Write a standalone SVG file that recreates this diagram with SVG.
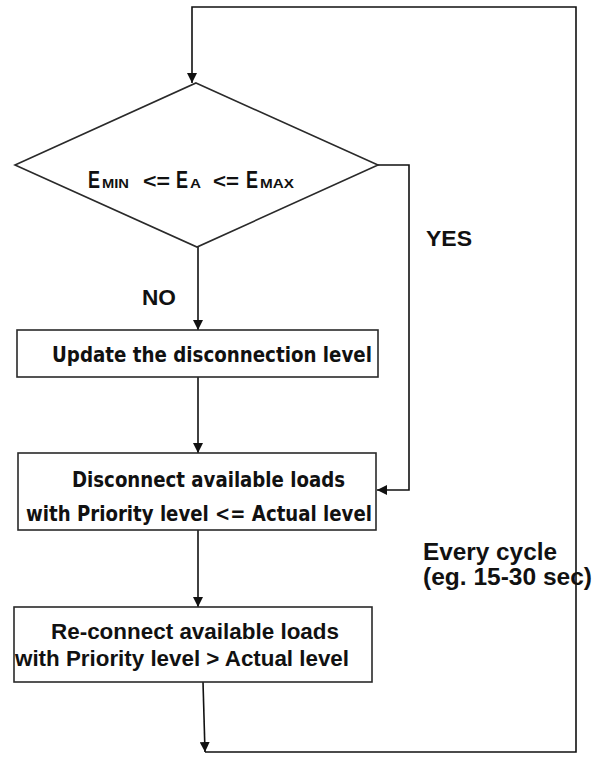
<svg xmlns="http://www.w3.org/2000/svg" width="593" height="759" viewBox="0 0 593 759">
  <defs>
    <marker id="arrow" markerUnits="userSpaceOnUse" markerWidth="10" markerHeight="10" refX="10" refY="5" orient="auto">
      <path d="M0,0 L10,5 L0,10 z" fill="#111"/>
    </marker>
    <style>
      .shape { fill: #fff; stroke: #2a2a2a; stroke-width: 1.6; }
      .wire { fill: none; stroke: #111; stroke-width: 1.6; marker-end: url(#arrow); }
      .lbl { font-family: "Liberation Sans", Arial, sans-serif; font-weight: bold; fill: #111; }
      .box { font-family: "DejaVu Sans", "Liberation Sans", sans-serif; font-weight: bold; fill: #111; font-size: 21px; }
      .narrow { font-family: "Liberation Sans", Arial, sans-serif; font-weight: bold; fill: #111; font-size: 22px; }
    </style>
  </defs>

  <rect width="593" height="759" fill="#fff"/>

  <!-- connectors -->
  <g id="connectors">
    <path class="wire" d="M205,752 H576 V7 H192 V83"/>
    <path class="wire" d="M198,247 V330"/>
    <path class="wire" d="M198,377 V453"/>
    <path class="wire" d="M378,165 H409 V490 H377"/>
    <path class="wire" d="M198,530 V607"/>
    <path class="wire" d="M203,682 L205,752"/>
  </g>

  <!-- decision: energy within band -->
  <g id="decision">
    <polygon class="shape" points="196,83 378,165 197,247 15,165"/>
    <text class="lbl" y="188" font-size="23"><tspan x="88" textLength="12" lengthAdjust="spacingAndGlyphs">E</tspan><tspan x="102" font-size="13" textLength="27" lengthAdjust="spacingAndGlyphs">MIN</tspan><tspan x="143" font-size="20" textLength="27" lengthAdjust="spacingAndGlyphs">&lt;=</tspan><tspan x="176" textLength="12" lengthAdjust="spacingAndGlyphs">E</tspan><tspan x="190" font-size="13" textLength="11" lengthAdjust="spacingAndGlyphs">A</tspan><tspan x="213" font-size="20" textLength="26" lengthAdjust="spacingAndGlyphs">&lt;=</tspan><tspan x="246" textLength="12" lengthAdjust="spacingAndGlyphs">E</tspan><tspan x="260" font-size="13" textLength="34" lengthAdjust="spacingAndGlyphs">MAX</tspan></text>
  </g>

  <!-- branch labels -->
  <g id="label-no">
    <text class="lbl" x="142" y="305" font-size="22" textLength="34" lengthAdjust="spacingAndGlyphs">NO</text>
  </g>
  <g id="label-yes">
    <text class="lbl" x="426" y="246" font-size="22" textLength="46" lengthAdjust="spacingAndGlyphs">YES</text>
  </g>

  <!-- step: update level -->
  <g id="update-level">
    <rect class="shape" x="17" y="330" width="361" height="47"/>
    <text class="box" x="52" y="362" textLength="320" lengthAdjust="spacingAndGlyphs">Update the disconnection level</text>
  </g>

  <!-- step: disconnect -->
  <g id="disconnect">
    <rect class="shape" x="18" y="453" width="358" height="77"/>
    <text class="box" x="72" y="487" textLength="273" lengthAdjust="spacingAndGlyphs">Disconnect available loads</text>
    <text class="box" x="26" y="521" textLength="346" lengthAdjust="spacingAndGlyphs">with Priority level &lt;= Actual level</text>
  </g>

  <!-- step: reconnect -->
  <g id="reconnect">
    <rect class="shape" x="14" y="607" width="358" height="75"/>
    <text class="narrow" x="51" y="639" textLength="288" lengthAdjust="spacingAndGlyphs">Re-connect available loads</text>
    <text class="narrow" x="15" y="666" textLength="334" lengthAdjust="spacingAndGlyphs">with Priority level &gt; Actual level</text>
  </g>

  <!-- cycle note -->
  <g id="cycle-note">
    <text class="lbl" x="423" y="560" font-size="23" textLength="134" lengthAdjust="spacingAndGlyphs">Every cycle</text>
    <text class="lbl" x="423" y="585" font-size="23" textLength="169" lengthAdjust="spacingAndGlyphs">(eg. 15-30 sec)</text>
  </g>
</svg>
